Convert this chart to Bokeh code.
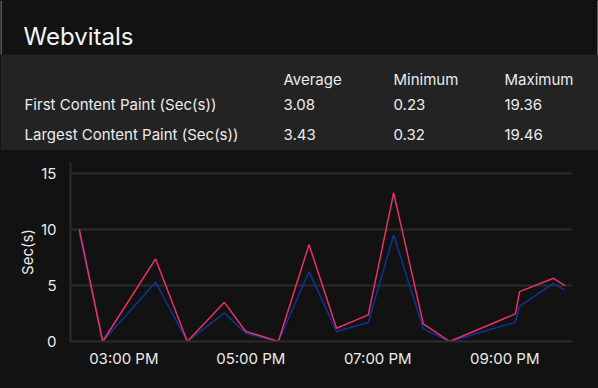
from datetime import datetime
from bokeh.plotting import figure
from bokeh.layouts import column
from bokeh.models import (ColumnDataSource, Range1d, FixedTicker,
                          DatetimeTickFormatter, GlobalInlineStyleSheet)
from bokeh.core.properties import value
from bokeh.embed import file_html
from bokeh.resources import INLINE

# ---------------- data ----------------
title_text = "Webvitals"
col_headers = ["Average", "Minimum", "Maximum"]
metric_names = ["First Content Paint (Sec(s))", "Largest Content Paint (Sec(s))"]
avg_vals = ["3.08", "3.43"]
min_vals = ["0.23", "0.32"]
max_vals = ["19.36", "19.46"]

day = "2024-01-01"
times = ["14:18", "14:40", "15:30", "16:00", "16:35", "16:55", "17:26", "17:55",
         "18:21", "18:51", "19:15", "19:43", "20:08", "21:10", "21:14", "21:46", "21:57"]
fcp = [9.7, 0.0, 5.3, 0.0, 2.56, 0.74, 0.0, 6.25, 0.89, 1.7, 9.52, 1.13, 0.0, 1.72, 3.15, 5.2, 4.6]
lcp = [10.0, 0.0, 7.38, 0.0, 3.5, 0.92, 0.0, 8.66, 1.19, 2.38, 13.28, 1.58, 0.0, 2.47, 4.46, 5.65, 5.0]
tick_times = ["15:00", "17:00", "19:00", "21:00"]
x_start, x_end = "14:09:36", "22:04"
y_label = "Sec(s)"

FONT = value("Inter")
BG = "#121212"
BAND = "#232323"
TXT = "#ececec"


def to_dt(t):
    fmt = "%Y-%m-%d %H:%M:%S" if t.count(":") == 2 else "%Y-%m-%d %H:%M"
    return datetime.strptime(f"{day} {t}", fmt)


def to_ms(dt):
    return (dt - datetime(1970, 1, 1)).total_seconds() * 1000.0


# ---------------- header / table ----------------
top = figure(width=598, height=150, x_range=Range1d(0, 598), y_range=Range1d(150, 0),
             output_backend="svg", toolbar_location=None, min_border=0)
top.frame_align = False
top.axis.visible = False
top.grid.visible = False
top.outline_line_color = None
top.background_fill_color = BG
top.border_fill_color = BG

top.quad(left=[0], right=[598], top=[54], bottom=[150], fill_color=BAND, line_color=None)
top.segment(x0=[0.5, 597.5], y0=[0, 0], x1=[0.5, 597.5], y1=[54, 54],
            line_color="#9a9a9a", line_width=1)

top.text(x=[23], y=[36], text=[title_text], text_font=FONT, text_font_size="24px",
         text_color="#f4f4f4", text_baseline="alphabetic")

col_x = [283, 393, 504]
top.text(x=col_x, y=[78.5] * 3, text=col_headers, text_font=FONT, text_font_size="15px",
         text_color=TXT, text_baseline="alphabetic")
row_y = [104.3, 134.3]
top.text(x=[24, 24], y=row_y, text=metric_names, text_font=FONT, text_font_size="15px",
         text_color=TXT, text_baseline="alphabetic")
for cx, vals in zip(col_x, [avg_vals, min_vals, max_vals]):
    top.text(x=[cx, cx], y=row_y, text=vals, text_font=FONT, text_font_size="15px",
             text_color=TXT, text_baseline="alphabetic")

# ---------------- chart ----------------
src = ColumnDataSource(dict(t=[to_dt(t) for t in times], fcp=fcp, lcp=lcp))

p = figure(width=598, height=238, x_axis_type="datetime",
           x_range=Range1d(to_dt(x_start), to_dt(x_end)), y_range=Range1d(0, 16),
           output_backend="svg", toolbar_location=None,
           min_border_left=70, min_border_right=26, min_border_top=12, min_border_bottom=47)
p.frame_align = False
p.background_fill_color = BG
p.border_fill_color = BG
p.outline_line_color = None

p.line("t", "fcp", source=src, line_color="#0d3497", line_width=1.5)
p.line("t", "lcp", source=src, line_color="#ec2f66", line_width=1.5)

p.xgrid.visible = False
p.ygrid.grid_line_color = "#2c2c2c"
p.ygrid.grid_line_width = 2
p.yaxis.ticker = FixedTicker(ticks=[0, 5, 10, 15])
p.xaxis.ticker = FixedTicker(ticks=[to_ms(to_dt(t)) for t in tick_times])
fmt = "%I:%M %p"
p.xaxis.formatter = DatetimeTickFormatter(minutes=fmt, hourmin=fmt, hours=fmt, days=fmt,
                                          minsec=fmt, seconds=fmt)

for ax in (p.xaxis[0], p.yaxis[0]):
    ax.axis_line_color = "#2c2c2c"
    ax.axis_line_width = 2
    ax.major_tick_line_color = None
    ax.minor_tick_line_color = None
    ax.major_label_text_font = "Inter"
    ax.major_label_text_font_size = "15px"
    ax.major_label_text_color = TXT
    ax.major_label_standoff = 8

p.xaxis.major_label_standoff = 1
p.yaxis.axis_label = y_label
p.yaxis.axis_label_text_font = "Inter"
p.yaxis.axis_label_text_font_size = "15px"
p.yaxis.axis_label_text_font_style = "normal"
p.yaxis.axis_label_text_color = TXT
p.yaxis.axis_label_standoff = 1

layout = column(top, p, spacing=0)
layout.stylesheets = [GlobalInlineStyleSheet(css="html, body { margin: 0; padding: 0; background: #121212; }")]

open("out.html", "w").write(file_html(layout, INLINE))
